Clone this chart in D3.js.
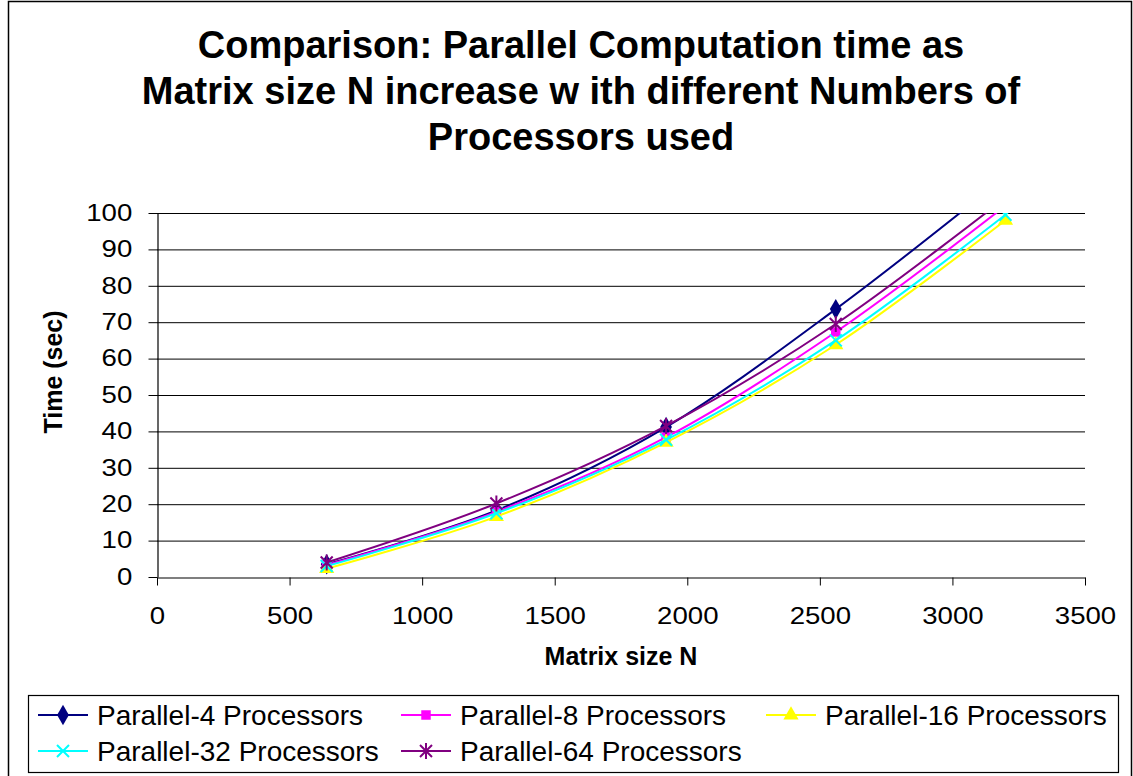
<!DOCTYPE html>
<html>
<head>
<meta charset="utf-8">
<script src="https://cdn.jsdelivr.net/npm/d3@7"></script>
<style>
  body { margin: 0; background: #fff; }
  svg { display: block; font-family: "Liberation Sans", Arial, sans-serif; }
</style>
</head>
<body>
<div id="chart"></div>
<script>
  // Matrix sizes (x values)
  const matrixSizes = [640, 1280, 1920, 2560, 3200];

  // Computation time (sec) per processor count
  const parallel4 = [3.5, 18.3, 41.2, 73.6, 110];
  const parallel8 = [3.3, 17.9, 38.4, 67.3, 102];
  const parallel16 = [2.3, 16.6, 37.0, 63.8, 98.0];
  const parallel32 = [3.0, 17.5, 37.7, 65.0, 99.5];
  const parallel64 = [4.0, 20.2, 41.5, 69.5, 104.2];

  const seriesNames = ['Parallel-4 Processors', 'Parallel-8 Processors', 'Parallel-16 Processors',
    'Parallel-32 Processors', 'Parallel-64 Processors'];

  const xTicks = [0, 500, 1000, 1500, 2000, 2500, 3000, 3500];
  const yTicks = [0, 10, 20, 30, 40, 50, 60, 70, 80, 90, 100];

  const titleLines = ['Comparison: Parallel Computation time as',
    'Matrix size N increase w ith different Numbers of',
    'Processors used'];

  const styles = [
    { color: '#000080', marker: 'diamond' },
    { color: '#ff00ff', marker: 'square' },
    { color: '#ffff00', marker: 'triangle' },
    { color: '#00ffff', marker: 'x' },
    { color: '#800080', marker: 'star' }
  ];

  const series = [parallel4, parallel8, parallel16, parallel32, parallel64].map((vals, i) => ({
    name: seriesNames[i],
    style: styles[i],
    values: vals.map((v, j) => ({ x: matrixSizes[j], y: v }))
  }));

  const W = 1133, H = 776;
  const plot = { left: 157, right: 1085, top: 213, bottom: 577 };

  const svg = d3.select('#chart')
    .append('svg')
    .attr('width', W)
    .attr('height', H);

  // Outer frame
  svg.append('path')
    .attr('d', `M8.5,${H}V1.5H1131.5V${H}`)
    .attr('fill', 'none')
    .attr('stroke', '#000')
    .attr('stroke-width', 1.5);

  // Title
  svg.append('text')
    .attr('x', 581)
    .attr('y', 58)
    .attr('text-anchor', 'middle')
    .style('font-size', '38px')
    .style('font-weight', 'bold')
    .selectAll('tspan')
    .data(titleLines)
    .enter()
    .append('tspan')
    .attr('x', 581)
    .attr('dy', (d, i) => i === 0 ? 0 : 46)
    .text(d => d);

  const x = d3.scaleLinear().domain([0, 3500]).range([plot.left, plot.right]);
  const y = d3.scaleLinear().domain([0, 100]).range([plot.bottom, plot.top]);

  // Horizontal gridlines
  svg.append('g')
    .selectAll('line')
    .data(yTicks.slice(1))
    .enter()
    .append('line')
    .attr('x1', plot.left)
    .attr('x2', plot.right)
    .attr('y1', d => y(d) + 0.5)
    .attr('y2', d => y(d) + 0.5)
    .attr('stroke', '#000')
    .attr('stroke-width', 1);

  // Axes
  const xAxis = svg.append('g')
    .attr('transform', `translate(0,${plot.bottom + 0.5})`)
    .call(d3.axisBottom(x).tickValues(xTicks).tickFormat(d3.format('d'))
      .tickSize(8).tickPadding(14).tickSizeOuter(0));

  const yAxis = svg.append('g')
    .attr('transform', `translate(${plot.left + 0.5},0)`)
    .call(d3.axisLeft(y).tickValues(yTicks).tickSize(9).tickPadding(12).tickSizeOuter(0));

  [xAxis, yAxis].forEach(ax => {
    ax.select('.domain').attr('stroke', '#000').attr('stroke-width', 1.2);
    ax.selectAll('.tick line').attr('stroke', '#000');
    ax.selectAll('.tick text')
      .style('font-size', '23px')
      .style('font-family', '"Liberation Sans", Arial, sans-serif')
      .attr('fill', '#000');
  });
  // the tick digits are drawn wide in the original
  xAxis.selectAll('.tick text').attr('transform', 'scale(1.2,1)').attr('dy', '1.05em');
  yAxis.selectAll('.tick text').attr('transform', 'scale(1.2,1)');

  // Axis titles
  svg.append('text')
    .attr('x', 621)
    .attr('y', 665)
    .attr('text-anchor', 'middle')
    .style('font-size', '25px')
    .style('font-weight', 'bold')
    .text('Matrix size N');

  svg.append('text')
    .attr('transform', 'translate(62,372) rotate(-90)')
    .attr('text-anchor', 'middle')
    .style('font-size', '25px')
    .style('font-weight', 'bold')
    .text('Time (sec)');

  // Markers
  function drawMarker(g, type, color) {
    if (type === 'diamond') {
      g.append('path').attr('d', d3.symbol(d3.symbolDiamond, 120)()).attr('fill', color);
    } else if (type === 'square') {
      g.append('path').attr('d', d3.symbol(d3.symbolSquare, 90)()).attr('fill', color);
    } else if (type === 'triangle') {
      g.append('path').attr('d', d3.symbol(d3.symbolTriangle, 100)()).attr('fill', color);
    } else if (type === 'x') {
      g.append('path').attr('d', 'M-6,-6L6,6M-6,6L6,-6')
        .attr('stroke', color).attr('stroke-width', 2).attr('fill', 'none');
    } else {
      g.append('path').attr('d', 'M-6,-6L6,6M-6,6L6,-6M0,-8V8')
        .attr('stroke', color).attr('stroke-width', 2).attr('fill', 'none');
    }
  }

  // Clip lines to the plot area
  svg.append('defs').append('clipPath')
    .attr('id', 'plot-clip')
    .append('rect')
    .attr('x', plot.left)
    .attr('y', plot.top)
    .attr('width', plot.right - plot.left)
    .attr('height', plot.bottom - plot.top);

  const line = d3.line()
    .x(d => x(d.x))
    .y(d => y(d.y))
    .curve(d3.curveCardinal.tension(0));

  const plotG = svg.append('g').attr('clip-path', 'url(#plot-clip)');

  series.forEach(s => {
    plotG.append('path')
      .datum(s.values)
      .attr('fill', 'none')
      .attr('stroke', s.style.color)
      .attr('stroke-width', 2)
      .attr('d', line);

    s.values.filter(d => d.y <= 100).forEach(d => {
      const m = plotG.append('g').attr('transform', `translate(${x(d.x)},${y(d.y)})`);
      drawMarker(m, s.style.marker, s.style.color);
    });
  });

  // Legend
  svg.append('rect')
    .attr('x', 28.5)
    .attr('y', 695.5)
    .attr('width', 1090)
    .attr('height', 77)
    .attr('fill', '#fff')
    .attr('stroke', '#000')
    .attr('stroke-width', 1.2);

  const legendCols = [38, 401, 766];
  const legendRows = [715, 751];

  series.forEach((s, i) => {
    const lx = legendCols[i % 3];
    const ly = legendRows[Math.floor(i / 3)];
    const g = svg.append('g').attr('transform', `translate(${lx},${ly})`);
    g.append('line')
      .attr('x1', 0).attr('x2', 50)
      .attr('stroke', s.style.color)
      .attr('stroke-width', 2);
    const m = g.append('g').attr('transform', 'translate(25,0)');
    drawMarker(m, s.style.marker, s.style.color);
    g.append('text')
      .attr('x', 59)
      .attr('y', 10)
      .style('font-size', '28px')
      .text(s.name);
  });
</script>
</body>
</html>
